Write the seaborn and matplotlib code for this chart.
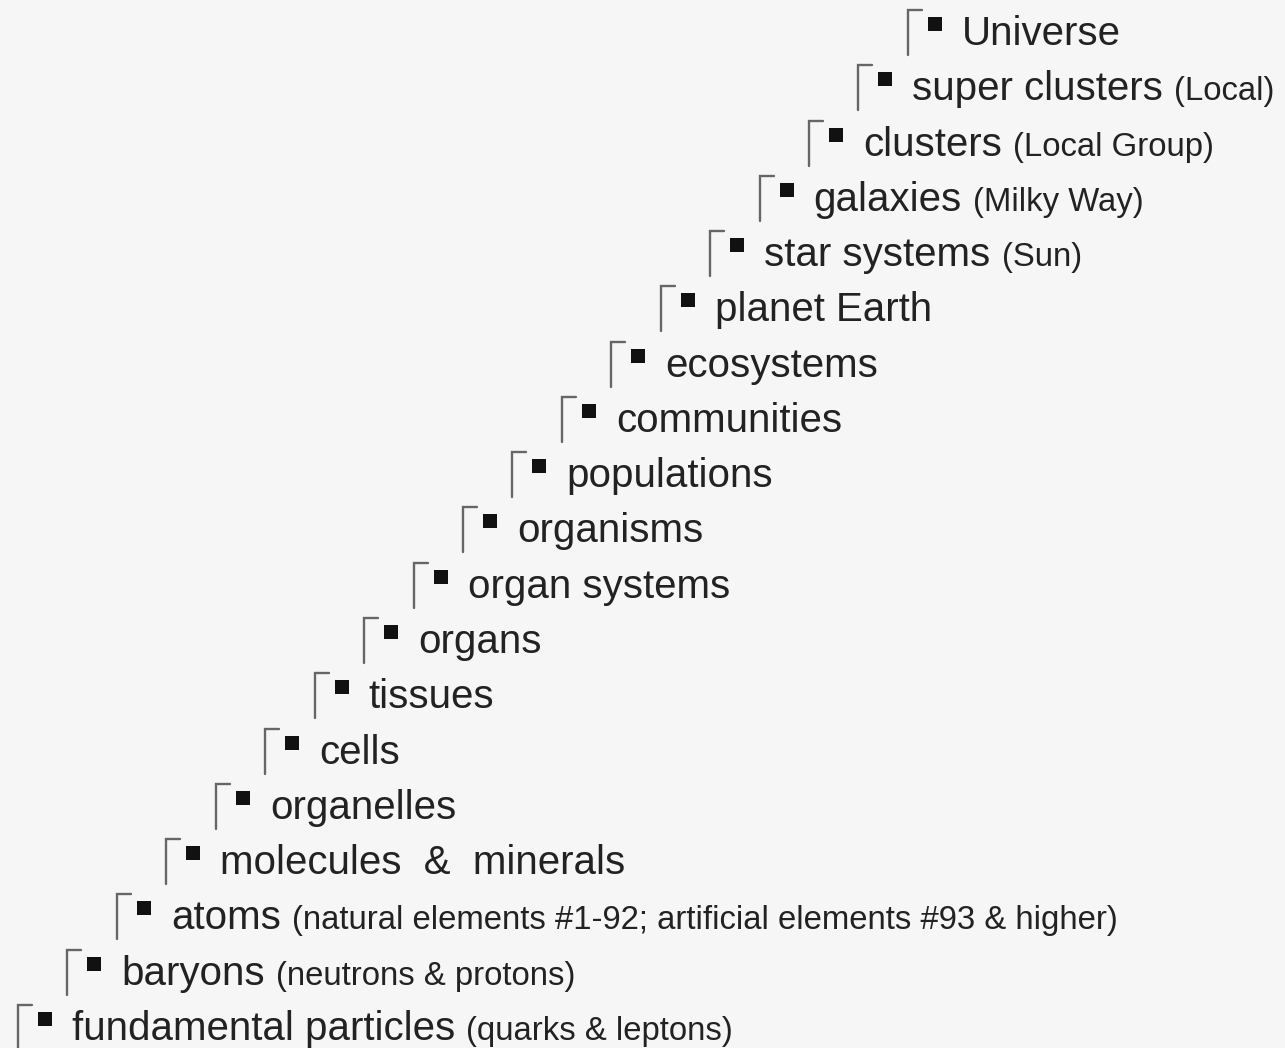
import matplotlib
matplotlib.use("Agg")
import matplotlib.pyplot as plt
import matplotlib.transforms as mtransforms
import seaborn as sns

sns.set_theme(style="white")
plt.rcParams['font.family'] = ['Liberation Sans', 'DejaVu Sans']

# levels of organisation, bottom (0) to top (18)
levels = list(range(19))
labels = [
    'fundamental particles', 'baryons', 'atoms', 'molecules  &  minerals',
    'organelles', 'cells', 'tissues', 'organs', 'organ systems', 'organisms',
    'populations', 'communities', 'ecosystems', 'planet Earth', 'star systems',
    'galaxies', 'clusters', 'super clusters', 'Universe',
]
notes = [
    '(quarks & leptons)', '(neutrons & protons)',
    '(natural elements #1-92; artificial elements #93 & higher)',
    '', '', '', '', '', '', '', '', '', '', '',
    '(Sun)', '(Milky Way)', '(Local Group)', '(Local)', '',
]

W, H, DPI = 1285, 1048, 100
step_x, step_y = 49.44, 55.28   # pixels per level
x0, y0 = 18, 8                  # bracket of level 0 (from left / from bottom)

fig = plt.figure(figsize=(W / DPI, H / DPI), dpi=DPI, facecolor='#f6f6f6')
ax = fig.add_axes([0, 0, 1, 1])
ax.set_facecolor('#f6f6f6')
ax.set_xlim(-x0 / step_x, (W - x0) / step_x)
ax.set_ylim(-y0 / step_y, (H - y0) / step_y)
ax.axis('off')

def px(dx, dy):
    """offset in pixels from a data point"""
    return mtransforms.ScaledTranslation(dx / DPI, dy / DPI, fig.dpi_scale_trans)

# black squares
sns.scatterplot(x=levels, y=levels, marker='s', s=105, color='#111111',
                linewidth=0, ax=ax, legend=False,
                transform=ax.transData + px(27, 21))

for lvl, lab, note in zip(levels, labels, notes):
    # bracket: vertical stroke with a short tick at the top
    tr = fig.dpi_scale_trans + mtransforms.ScaledTranslation(lvl, lvl, ax.transData)
    ax.plot([0.14, 0.0, 0.0], [0.35, 0.35, -0.10], color='#666666', lw=1.7,
            transform=tr, solid_joinstyle='miter')
    t = ax.text(lvl, lvl, lab, transform=ax.transData + px(54, 0),
                fontsize=29, color='#222222', ha='left', va='baseline')
    if note:
        ax.annotate(note, xy=(1, lvl), xycoords=(t, 'data'),
                    xytext=(8, 0), textcoords='offset points',
                    fontsize=23.7, color='#222222', ha='left', va='baseline')

fig.savefig('out.png', dpi=DPI, facecolor=fig.get_facecolor())
